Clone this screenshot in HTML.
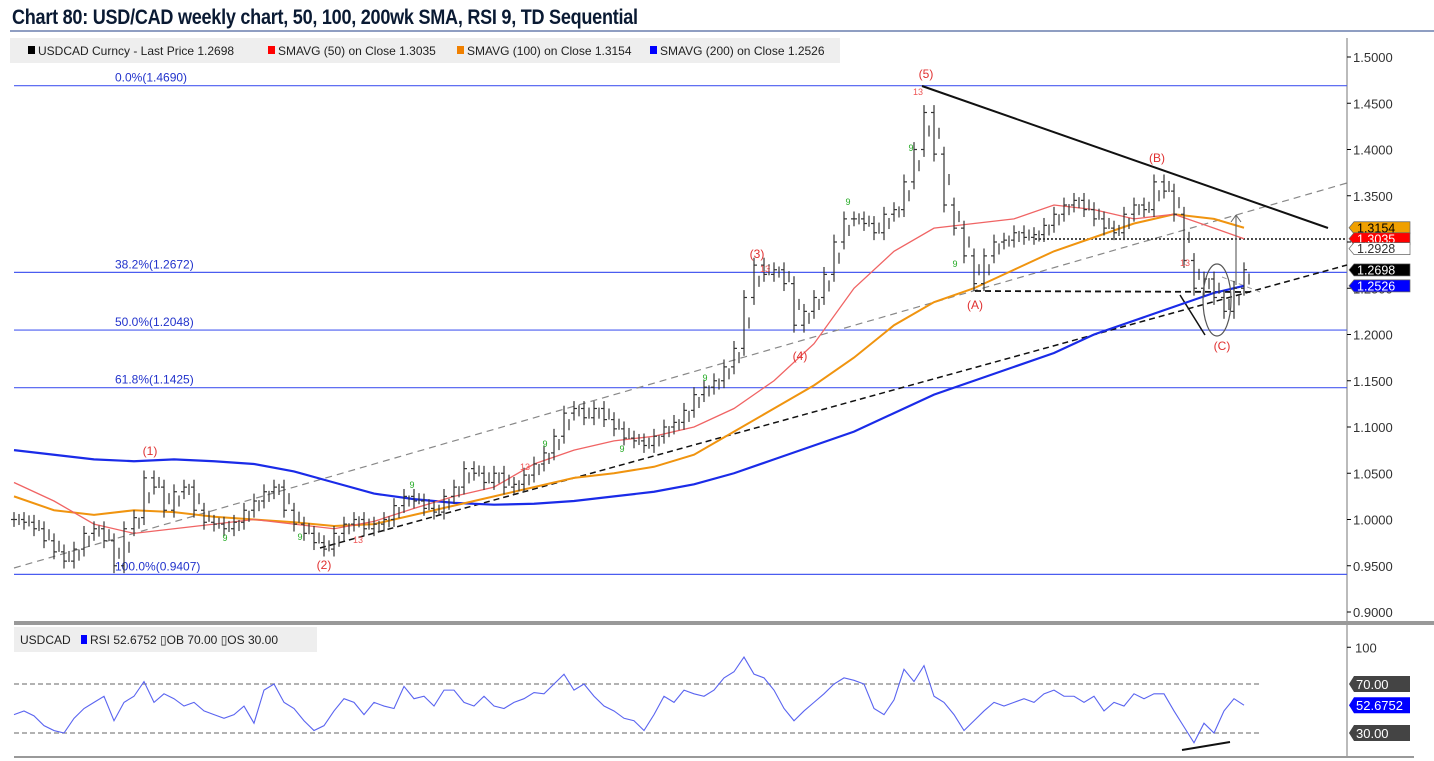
<!DOCTYPE html>
<html><head><meta charset="utf-8">
<style>
body{margin:0;background:#fff;font-family:"Liberation Sans",sans-serif;}
#wrap{position:relative;width:1434px;height:761px;overflow:hidden;}
#title{position:absolute;left:12px;top:6px;font:bold 21px "Liberation Sans Narrow","Liberation Sans",sans-serif;color:#0a1a33;transform:scaleX(0.86);transform-origin:left;white-space:nowrap;letter-spacing:-0.3px}
svg text{font-family:"Liberation Sans",sans-serif;}
</style></head><body>
<div id="wrap">
<div id="title">Chart 80: USD/CAD weekly chart, 50, 100, 200wk SMA, RSI 9, TD Sequential</div>
<svg id="chart" width="1434" height="761" style="position:absolute;left:0;top:0"></svg>
</div>
<script>
const closes=[1.000,0.997,0.990,0.977,0.965,0.955,0.968,0.985,0.990,0.977,0.950,0.990,1.002,1.045,1.035,1.010,1.030,1.035,1.010,0.997,0.995,0.990,0.997,1.010,1.020,1.030,1.035,1.010,0.995,0.985,0.975,0.968,0.985,0.995,1.000,0.990,0.995,1.000,1.015,1.025,1.020,1.012,1.008,1.025,1.035,1.055,1.050,1.040,1.050,1.035,1.038,1.048,1.060,1.072,1.090,1.115,1.120,1.110,1.120,1.108,1.098,1.088,1.085,1.080,1.090,1.100,1.105,1.118,1.135,1.143,1.150,1.165,1.185,1.240,1.275,1.265,1.270,1.255,1.210,1.225,1.240,1.265,1.300,1.325,1.325,1.320,1.310,1.330,1.335,1.365,1.400,1.440,1.395,1.340,1.315,1.285,1.255,1.285,1.300,1.302,1.310,1.305,1.308,1.318,1.330,1.340,1.345,1.335,1.325,1.315,1.310,1.330,1.340,1.335,1.365,1.355,1.330,1.280,1.250,1.260,1.240,1.225,1.250,1.270];
const sma50=[1.040,1.020,0.995,0.985,0.990,0.995,1.000,0.995,0.990,0.998,1.012,1.025,1.035,1.060,1.075,1.085,1.090,1.100,1.120,1.150,1.190,1.250,1.290,1.315,1.320,1.325,1.340,1.335,1.325,1.330,1.315,1.3035];
const sma100=[1.025,1.010,1.005,1.010,1.008,1.003,1.000,0.997,0.993,0.995,1.005,1.015,1.025,1.035,1.045,1.050,1.057,1.070,1.095,1.120,1.145,1.175,1.210,1.235,1.250,1.270,1.290,1.305,1.320,1.330,1.325,1.3154];
const sma200=[1.075,1.070,1.065,1.063,1.065,1.063,1.060,1.052,1.040,1.028,1.022,1.018,1.016,1.017,1.020,1.025,1.030,1.038,1.050,1.065,1.080,1.095,1.115,1.135,1.150,1.165,1.180,1.200,1.215,1.230,1.245,1.2526];
const rsi=[45,48,44,36,32,30,42,50,55,60,40,55,60,72,55,62,58,52,55,48,45,42,45,52,38,65,70,55,50,40,32,36,48,58,55,45,55,52,50,68,58,60,52,65,65,55,52,60,52,50,55,58,63,62,70,78,65,70,60,52,48,42,40,32,45,60,55,65,62,60,65,75,80,92,78,75,65,50,40,48,55,62,70,75,73,70,50,45,57,82,72,85,60,55,45,32,40,48,55,52,55,58,55,62,65,60,60,55,60,48,55,52,62,58,62,62,48,35,22,38,30,48,58,52.68];
const priceTicks=[1.5,1.45,1.4,1.35,1.3,1.25,1.2,1.15,1.1,1.05,1.0,0.95,0.9];
const fibLevels=[1.4690,1.2672,1.2048,1.1425,0.9407];
const fibLabels=["0.0%(1.4690)","38.2%(1.2672)","50.0%(1.2048)","61.8%(1.1425)","100.0%(0.9407)"];
const tags=[[1.3154,"#f0a000","1.3154","#000"],[1.3035,"#ff0000","1.3035","#fff"],[1.2928,"#fff","1.2928","#333"],[1.2698,"#000","1.2698","#fff"],[1.2526,"#0000ff","1.2526","#fff"]];

const svg=document.getElementById('chart');const NS='http://www.w3.org/2000/svg';
function mk(t,a,p){const e=document.createElementNS(NS,t);for(const k in a)e.setAttribute(k,a[k]);(p||svg).appendChild(e);return e;}
const X0=14,DX=10,AX=1347;
const xi=i=>X0+i*DX;
const yP=p=>57+(1.5-p)*925;
const yR=r=>684+(70-r)*1.225;

let e=mk('line',{x1:10,y1:31,x2:1434,y2:31,stroke:'#6a7fae','stroke-width':1.5});

e=mk('rect',{x:10,y:38,width:830,height:25,fill:'#eeeeee'});

const leg=[[18,'#000','USDCAD Curncy - Last Price 1.2698'],[258,'#f00','SMAVG (50) on Close 1.3035'],[447,'#f08000','SMAVG (100) on Close 1.3154'],[640,'#00f','SMAVG (200) on Close 1.2526']];
leg.forEach(l=>{let s=mk('rect',{x:l[0]+10,y:46,width:7,height:8,fill:l[1]});

let t=mk('text',{x:l[0]+20,y:55,'font-size':12,fill:'#222'});t.textContent=l[2];
});
e=mk('line',{x1:AX,y1:38,x2:AX,y2:758,stroke:'#777'});

e=mk('rect',{x:14,y:621,width:1420,height:4,fill:'#999'});

e=mk('rect',{x:14,y:756,width:1400,height:2,fill:'#999'});

priceTicks.forEach(p=>{let l=mk('line',{x1:AX,y1:yP(p),x2:AX+4,y2:yP(p),stroke:'#000'});

let t=mk('text',{x:AX+6,y:yP(p)+5,'font-size':13,fill:'#333'});t.textContent=p.toFixed(4);
});
fibLevels.forEach((f,i)=>{let l=mk('line',{x1:14,y1:yP(f),x2:AX,y2:yP(f),stroke:'#4a5cf0','stroke-width':1.2});

let t=mk('text',{x:115,y:yP(f)-4,'font-size':12,fill:'#2233cc'});t.textContent=fibLabels[i];
});
function ln(a,name){let l=mk('line',a);}
ln({x1:14,y1:568,x2:1347,y2:183,stroke:'#888','stroke-dasharray':'7,5','stroke-width':1.2},'upper-channel-line');
ln({x1:320,y1:548,x2:1347,y2:265,stroke:'#111','stroke-dasharray':'6,4','stroke-width':1.5},'lower-trendline');
ln({x1:922,y1:86,x2:1328,y2:228,stroke:'#111','stroke-width':2},'descending-trendline');
ln({x1:975,y1:291,x2:1250,y2:292,stroke:'#111','stroke-dasharray':'6,4','stroke-width':1.8},'neckline');
ln({x1:1035,y1:239,x2:1347,y2:239,stroke:'#111','stroke-dasharray':'2,2','stroke-width':1.5},'dotted-level');
ln({x1:1180,y1:295,x2:1205,y2:335,stroke:'#111','stroke-width':1.5},'wedge-line');
ln({x1:1222,y1:277,x2:1260,y2:292,stroke:'#999','stroke-dasharray':'5,4'},'small-dashed');
function path(arr,step,col,w,name){let d='';arr.forEach((v,i)=>{let x=Math.min(X0+i*step,1244);d+=(i?'L':'M')+x+','+yP(v);});
let p=mk('path',{d:d,fill:'none',stroke:col,'stroke-width':w});}
path(sma200,40,'#1a2be8',2.2,'sma200-line');
path(sma100,40,'#f0940f',2,'sma100-line');
path(sma50,40,'#f06464',1.3,'sma50-line');
closes.forEach((c,i)=>{let prev=i?closes[i-1]:c;let hi=Math.max(c,prev)+0.008,lo=Math.min(c,prev)-0.008;
let x=xi(i);let g=mk('g',{stroke:'#333','stroke-width':1.2});

mk('line',{x1:x,y1:yP(hi),x2:x,y2:yP(lo)},g);mk('line',{x1:x-3,y1:yP(prev),x2:x,y2:yP(prev)},g);mk('line',{x1:x,y1:yP(c),x2:x+3,y2:yP(c)},g);
let x2=x+5,mid=(c+prev)/2;mk('line',{x1:x2,y1:yP(mid+0.006),x2:x2,y2:yP(mid-0.006)},g);});
e=mk('ellipse',{cx:1217,cy:300,rx:14,ry:36,fill:'none',stroke:'#555','stroke-width':1.2});

ln({x1:1236,y1:285,x2:1236,y2:215,stroke:'#666','stroke-width':1.2},'target-arrow');
ln({x1:1231,y1:222,x2:1236,y2:215,stroke:'#666'},'arrow-head-l');ln({x1:1241,y1:222,x2:1236,y2:215,stroke:'#666'},'arrow-head-r');
const waves=[[150,455,'(1)'],[324,569,'(2)'],[757,258,'(3)'],[800,360,'(4)'],[926,78,'(5)'],[975,309,'(A)'],[1157,162,'(B)'],[1222,350,'(C)']];
waves.forEach(w=>{let t=mk('text',{x:w[0],y:w[1],'font-size':12,fill:'#e03030','text-anchor':'middle'});t.textContent=w[2];
});
const td=[[225,541,'9','#2a2'],[300,540,'9','#2a2'],[358,543,'13','#e55'],[412,488,'9','#2a2'],[545,447,'9','#2a2'],[622,452,'9','#2a2'],[525,470,'13','#e55'],[705,381,'9','#2a2'],[765,272,'13','#e55'],[848,205,'9','#2a2'],[911,151,'9','#2a2'],[918,95,'13','#e55'],[955,267,'9','#2a2'],[1185,266,'13','#e55']];
td.forEach(w=>{let t=mk('text',{x:w[0],y:w[1],'font-size':9,fill:w[3],'text-anchor':'middle'});t.textContent=w[2];
});
tags.forEach(tg=>{let y=yP(tg[0]);let g=mk('g',{});
mk('path',{d:`M${AX+2},${y} L${AX+7},${y-6} H1410 V${y+6} H${AX+7} Z`,fill:tg[1],stroke:'#666','stroke-width':0.7},g);
let t=mk('text',{x:AX+10,y:y+4.5,'font-size':12.5,fill:tg[3]},g);t.textContent=tg[2];});
e=mk('rect',{x:14,y:627,width:303,height:25,fill:'#eee'});

e=mk('text',{x:20,y:644,'font-size':12,fill:'#222'});e.textContent='USDCAD';
e=mk('rect',{x:81,y:635,width:6,height:9,fill:'#00f'});
e=mk('text',{x:90,y:644,'font-size':12,fill:'#222'});e.textContent='RSI 52.6752  \u25AFOB 70.00  \u25AFOS 30.00';
[70,30].forEach(v=>ln({x1:14,y1:yR(v),x2:1262,y2:yR(v),stroke:'#999','stroke-dasharray':'5,3','stroke-width':1.5},'rsi-level-'+v));
e=mk('line',{x1:AX,y1:yR(100),x2:AX+4,y2:yR(100),stroke:'#000'});
e=mk('text',{x:AX+8,y:yR(100)+5,'font-size':13,fill:'#333'});e.textContent='100';
let d='';rsi.forEach((v,i)=>{d+=(i?'L':'M')+xi(i)+','+yR(v);});
e=mk('path',{d:d,fill:'none',stroke:'#5a64f0','stroke-width':1.1});
ln({x1:1182,y1:750,x2:1230,y2:742,stroke:'#111','stroke-width':2},'rsi-divergence-line');
[[70,'#444','70.00'],[52.6752,'#0000ff','52.6752'],[30,'#444','30.00']].forEach(tg=>{let y=yR(tg[0]);let g=mk('g',{});

mk('path',{d:`M${AX+2},${y} L${AX+7},${y-8} H1410 V${y+8} H${AX+7} Z`,fill:tg[1]},g);
let t=mk('text',{x:AX+9,y:y+5,'font-size':13,fill:'#fff'},g);t.textContent=tg[2];});
</script>
</body></html>
